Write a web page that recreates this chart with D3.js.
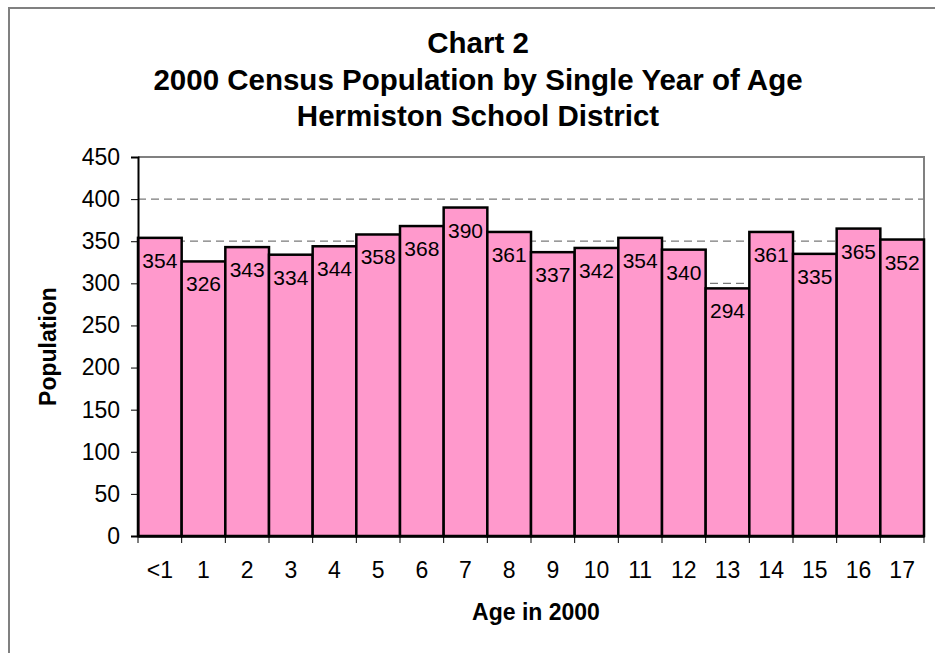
<!DOCTYPE html>
<html lang="en">
<head>
    <meta charset="UTF-8">
    <title>Chart 2 - Hermiston School District</title>
    <script src="https://d3js.org/d3.v7.min.js"></script>
    <style>
        body { margin: 0; background: #fff; font-family: Arial, 'Liberation Sans', sans-serif; }
        svg text { font-family: Arial, 'Liberation Sans', sans-serif; fill: #000; }
        .bar { fill: #ff99cc; stroke: #000; stroke-width: 2.5; }
        .grid line { stroke: #7a7a7a; stroke-dasharray: 8,5; stroke-width: 1.2; }
    </style>
</head>
<body>
<div id="chart"></div>
<script>
    // data
    const ages = ["<1", "1", "2", "3", "4", "5", "6", "7", "8", "9", "10", "11", "12", "13", "14", "15", "16", "17"];
    const population = [354, 326, 343, 334, 344, 358, 368, 390, 361, 337, 342, 354, 340, 294, 361, 335, 365, 352];
    const yTicks = [0, 50, 100, 150, 200, 250, 300, 350, 400, 450];
    const titleLines = ["Chart 2", "2000 Census Population by Single Year of Age", "Hermiston School District"];

    const W = 935, H = 653;
    const margin = { top: 157, right: 11, bottom: 117, left: 138 };
    const width = W - margin.left - margin.right;
    const height = H - margin.top - margin.bottom;

    const svg = d3.select("#chart").append("svg")
        .attr("width", W)
        .attr("height", H);

    // outer chart frame (only left and top edges fall inside the window)
    svg.append("rect")
        .attr("x", 9).attr("y", 8)
        .attr("width", W + 20).attr("height", H + 20)
        .attr("fill", "none")
        .attr("stroke", "#808080")
        .attr("stroke-width", 2);

    // title
    svg.append("g").selectAll("text")
        .data(titleLines)
        .join("text")
        .attr("x", 478)
        .attr("y", (d, i) => 53 + i * 36.5)
        .attr("text-anchor", "middle")
        .style("font-size", "29.5px")
        .style("font-weight", "bold")
        .text(d => d);

    const g = svg.append("g")
        .attr("transform", `translate(${margin.left},${margin.top})`);

    const x = d3.scaleBand()
        .domain(ages)
        .range([0, width])
        .padding(0);

    const y = d3.scaleLinear()
        .domain([0, 450])
        .range([height, 0]);

    // dashed gridlines
    g.append("g")
        .attr("class", "grid")
        .selectAll("line")
        .data(yTicks.filter(t => t > 0 && t < 450))
        .join("line")
        .attr("x1", 0).attr("x2", width)
        .attr("y1", d => y(d)).attr("y2", d => y(d));

    // plot area border (top and right in gray)
    g.append("path")
        .attr("d", `M0,${y(450)}H${width}V${height}`)
        .attr("fill", "none")
        .attr("stroke", "#808080")
        .attr("stroke-width", 2);

    // bars
    g.selectAll(".bar")
        .data(population)
        .join("rect")
        .attr("class", "bar")
        .attr("x", (d, i) => x(ages[i]))
        .attr("y", d => y(d))
        .attr("width", x.bandwidth())
        .attr("height", d => height - y(d));

    // value labels inside the bar tops
    g.selectAll(".val")
        .data(population)
        .join("text")
        .attr("class", "val")
        .attr("x", (d, i) => x(ages[i]) + x.bandwidth() / 2)
        .attr("y", d => y(d) + 30)
        .attr("text-anchor", "middle")
        .style("font-size", "21px")
        .text(d => d);

    // y axis
    const yAxis = g.append("g")
        .call(d3.axisLeft(y).tickValues(yTicks).tickSize(7).tickPadding(11));
    yAxis.select(".domain").attr("stroke", "#000").attr("stroke-width", 2);
    yAxis.selectAll(".tick line").attr("stroke", "#000");
    yAxis.selectAll(".tick text").style("font-size", "23px");

    // x axis: ticks sit on category boundaries
    const xAxis = g.append("g")
        .attr("transform", `translate(0,${height})`)
        .call(d3.axisBottom(x).tickSize(0).tickPadding(26));
    xAxis.select(".domain").attr("stroke", "#000").attr("stroke-width", 2.5);
    xAxis.selectAll(".tick text").style("font-size", "23px");

    g.append("g")
        .selectAll("line")
        .data(ages.concat(["end"]))
        .join("line")
        .attr("x1", (d, i) => i * x.step())
        .attr("x2", (d, i) => i * x.step())
        .attr("y1", height)
        .attr("y2", height + 7)
        .attr("stroke", "#000");

    // axis titles
    svg.append("text")
        .attr("x", margin.left + width / 2 + 5)
        .attr("y", 620)
        .attr("text-anchor", "middle")
        .style("font-size", "23px")
        .style("font-weight", "bold")
        .text("Age in 2000");

    svg.append("text")
        .attr("transform", `translate(56,${margin.top + height / 2}) rotate(-90)`)
        .attr("text-anchor", "middle")
        .style("font-size", "23px")
        .style("font-weight", "bold")
        .text("Population");
</script>
</body>
</html>
